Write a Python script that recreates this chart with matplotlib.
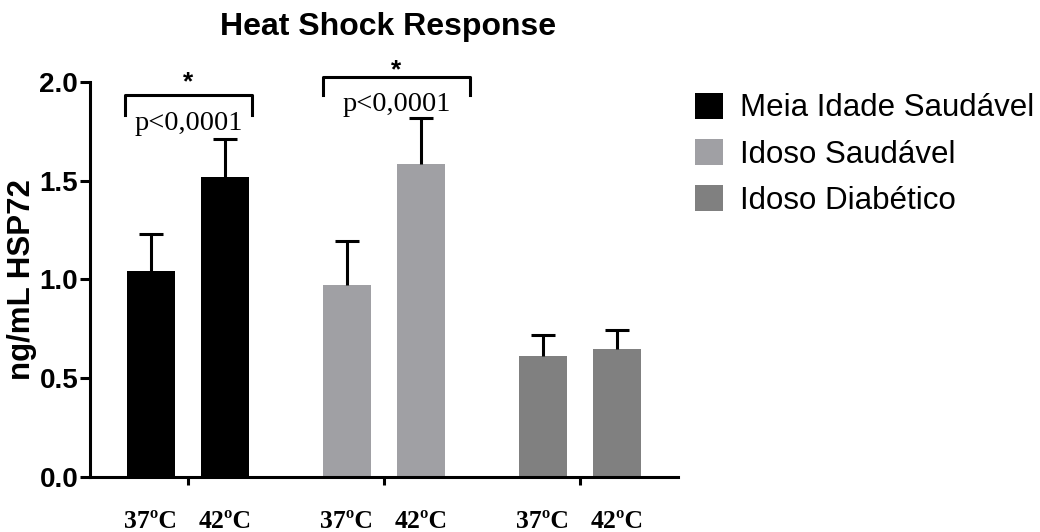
import numpy as np
import matplotlib
matplotlib.use("Agg")
import matplotlib.pyplot as plt
from matplotlib.patches import Patch

# values (ng/mL HSP72)
groups = ["Meia Idade Saudável", "Idoso Saudável", "Idoso Diabético"]
temps = ["37ºC", "42ºC"]
means_37 = [1.04, 0.97, 0.61]
means_42 = [1.52, 1.585, 0.645]
err_37 = [0.19, 0.225, 0.11]
err_42 = [0.19, 0.23, 0.10]
colors = ["#000000", "#a0a0a4", "#808080"]

plt.rcParams['font.family'] = ['Liberation Sans', 'DejaVu Sans']

fig = plt.figure(figsize=(10.4, 5.32), dpi=100)
ax = fig.add_axes([0.0865, 0.104, 0.5654, 0.742])

x = np.arange(len(groups))
offset = 0.189
width = 0.245


def upper_err(xpos, mean, err):
    # only the upper whisker with its cap
    line, caps, bars = ax.errorbar(xpos, mean, yerr=[[0], [err]], fmt='none',
                                   ecolor='black', elinewidth=2.2, capsize=8.3,
                                   capthick=2.2, zorder=3)
    caps[0].set_visible(False)


for i in range(len(groups)):
    ax.bar(x[i] - offset, means_37[i], width, color=colors[i], zorder=2)
    ax.bar(x[i] + offset, means_42[i], width, color=colors[i], zorder=2)
    upper_err(x[i] - offset, means_37[i], err_37[i])
    upper_err(x[i] + offset, means_42[i], err_42[i])

ax.set_xlim(-0.5, 2.5)
ax.set_ylim(0, 2.0)
ax.set_yticks([0.0, 0.5, 1.0, 1.5, 2.0])
ax.set_yticklabels(["0.0", "0.5", "1.0", "1.5", "2.0"])

# group ticks without labels, temperature labels under each bar
ax.set_xticks(x)
ax.set_xticklabels([])
bar_pos = np.concatenate([[xi - offset, xi + offset] for xi in x])
ax.set_xticks(bar_pos, temps * len(groups), minor=True)
ax.tick_params(axis='x', which='minor', length=0, pad=24)
for lab in ax.get_xticklabels(minor=True):
    lab.set_fontfamily(['Liberation Serif', 'DejaVu Serif'])
    lab.set_fontweight('bold')
    lab.set_fontsize(18.5)

ax.tick_params(axis='x', which='major', length=6, width=2.2, direction='out')
ax.tick_params(axis='y', length=7, width=2.2, direction='out', pad=1.5, labelsize=20)
for lab in ax.get_yticklabels():
    lab.set_fontweight('bold')

for side in ['top', 'right']:
    ax.spines[side].set_visible(False)
for side in ['left', 'bottom']:
    ax.spines[side].set_linewidth(2.2)

ax.set_ylabel("ng/mL HSP72", fontsize=22.5, fontweight='bold')
ax.yaxis.set_label_coords(-0.09, 0.5)

fig.text(0.373, 0.95, "Heat Shock Response", fontsize=23, fontweight='bold',
         ha='center', va='center')


# significance brackets
def bracket(x0, x1, ytop, ybot, star_y, text_y):
    ax.plot([x0, x0, x1, x1], [ybot, ytop, ytop, ybot], color='black',
            linewidth=2.2, clip_on=False, solid_joinstyle='round')
    ax.text((x0 + x1) / 2, star_y, "*", fontsize=19, fontweight='bold',
            ha='center', va='center')
    ax.text((x0 + x1) / 2, text_y, "p<0,0001", fontsize=20.5,
            family=['Liberation Serif', 'DejaVu Serif'], ha='center', va='center')


bracket(-0.321, 0.325, 1.935, 1.833, 2.0, 1.79)
bracket(0.687, 1.439, 2.027, 1.935, 2.06, 1.884)

handles = [Patch(facecolor=c, edgecolor='none') for c in colors]
fig.legend(handles, groups, loc='upper left', bbox_to_anchor=(0.668, 0.826),
           frameon=False, fontsize=22.5, handlelength=0.9, handleheight=0.9,
           handletextpad=0.55, labelspacing=0.5, borderpad=0, borderaxespad=0)

fig.savefig("out.png", dpi=100)
